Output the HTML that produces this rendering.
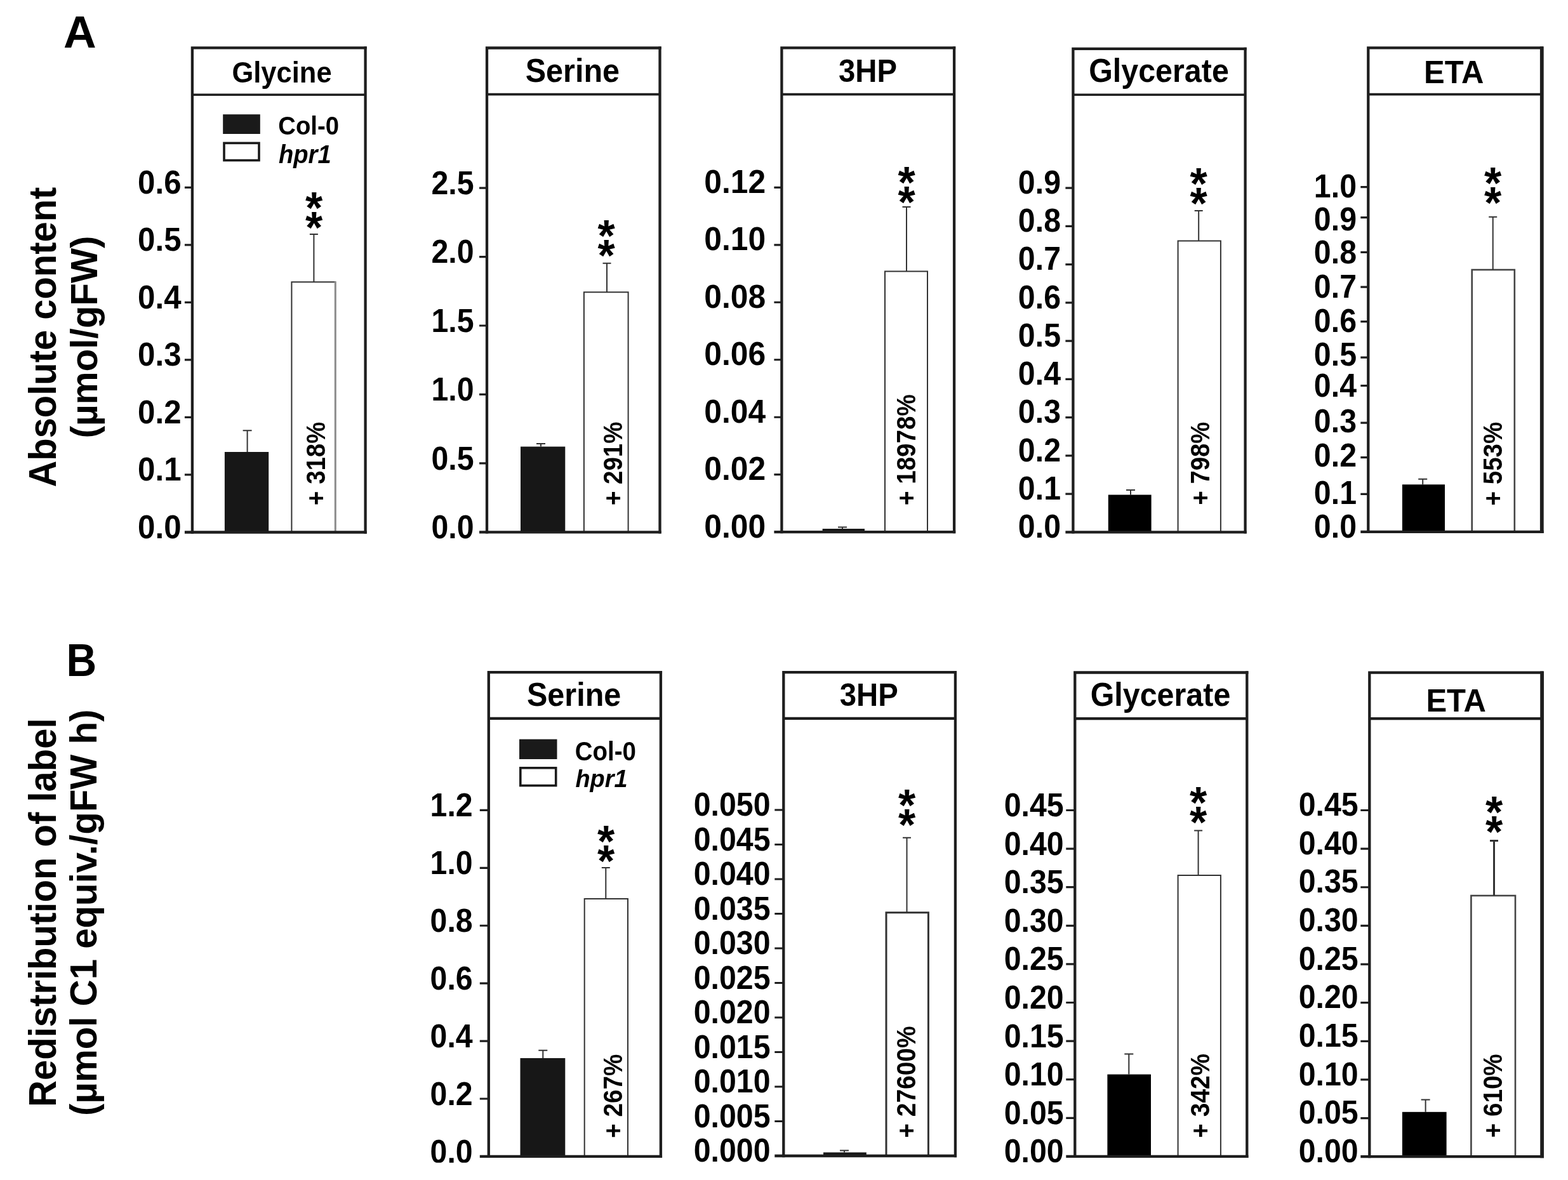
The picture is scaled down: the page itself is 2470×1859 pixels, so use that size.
<!DOCTYPE html>
<html lang="en"><head><meta charset="utf-8"><title>Figure</title>
<style>html,body{margin:0;padding:0;background:#fff}body{width:2470px;height:1859px;overflow:hidden}svg{display:block}</style>
</head><body>
<svg xmlns="http://www.w3.org/2000/svg" width="2470" height="1859" viewBox="0 0 2470 1859" font-family='"Liberation Sans", Arial, Helvetica, sans-serif' font-weight="700" fill="#000">
<rect width="2470" height="1859" fill="#fff"/>
<g>
<rect x="459.4" y="444.3" width="68.6" height="394.2" fill="#fff" stroke="#333" stroke-width="2"/>
<path d="M528 445.3V838.5" stroke="#fff" stroke-width="2.6" fill="none"/>
<path d="M528.3 443.3V838.5" stroke="#8c8c8c" stroke-width="3" fill="none"/>
<path d="M494.4 444.3V368.9M487.9 368.9H500.9" stroke="#333" stroke-width="2" fill="none"/>
<path d="M389.6 712V678.3M382.6 678.3H396.6" stroke="#333" stroke-width="2" fill="none"/>
<rect x="353.9" y="712" width="69.3" height="126.5" fill="#171717"/>
<path d="M302.9 838.5V75.3H575.6" stroke="#1e1e1e" stroke-width="4.3" fill="none" stroke-linejoin="miter" stroke-linecap="square"/>
<path d="M575.6 73.15V840.65" stroke="#1e1e1e" stroke-width="4.3" fill="none"/>
<path d="M302.9 149.2H575.6" stroke="#1e1e1e" stroke-width="3.6" fill="none"/>
<path d="M290.9 838.5H577.75" stroke="#1e1e1e" stroke-width="4.3" fill="none"/>
<path d="M290.9 295.3H302.9M290.9 385.83H302.9M290.9 476.37H302.9M290.9 566.9H302.9M290.9 657.43H302.9M290.9 747.97H302.9" stroke="#1e1e1e" stroke-width="3.2" fill="none"/>
<g font-size="49.2" text-anchor="end">
<text transform="translate(285.5 304.6) scale(1 1.055)">0.6</text>
<text transform="translate(285.5 395.13) scale(1 1.055)">0.5</text>
<text transform="translate(285.5 485.67) scale(1 1.055)">0.4</text>
<text transform="translate(285.5 576.2) scale(1 1.055)">0.3</text>
<text transform="translate(285.5 666.73) scale(1 1.055)">0.2</text>
<text transform="translate(285.5 757.27) scale(1 1.055)">0.1</text>
<text transform="translate(285.5 847.8) scale(1 1.055)">0.0</text>
</g>
<text transform="translate(444 129.5) scale(1 1.055)" font-size="43.5" text-anchor="middle">Glycine</text>
<g font-size="70" text-anchor="middle"><text x="494.6" y="351.82">*</text><text x="494.6" y="383.12">*</text></g>
<text transform="translate(511.9 795.88) rotate(-90)" font-size="42" textLength="131.13" lengthAdjust="spacingAndGlyphs">+ 318%</text>
</g>
<g>
<rect x="919.9" y="460.3" width="69.7" height="378" fill="#fff" stroke="#333" stroke-width="2"/>
<path d="M956 460.3V414.8M949.5 414.8H962.5" stroke="#333" stroke-width="2" fill="none"/>
<path d="M852 703.6V699M845 699H859" stroke="#333" stroke-width="2" fill="none"/>
<rect x="820" y="703.6" width="70.3" height="134.7" fill="#171717"/>
<path d="M767 838.3V75.5H1039.5" stroke="#1e1e1e" stroke-width="4.3" fill="none" stroke-linejoin="miter" stroke-linecap="square"/>
<path d="M1039.5 73.35V840.45" stroke="#1e1e1e" stroke-width="4.3" fill="none"/>
<path d="M767 148.6H1039.5" stroke="#1e1e1e" stroke-width="3.6" fill="none"/>
<path d="M755 838.3H1041.65" stroke="#1e1e1e" stroke-width="4.3" fill="none"/>
<path d="M755 296.1H767M755 404.54H767M755 512.98H767M755 621.42H767M755 729.86H767" stroke="#1e1e1e" stroke-width="3.2" fill="none"/>
<g font-size="48.3" text-anchor="end">
<text transform="translate(746.6 305.8) scale(1 1.055)">2.5</text>
<text transform="translate(746.6 414.24) scale(1 1.055)">2.0</text>
<text transform="translate(746.6 522.68) scale(1 1.055)">1.5</text>
<text transform="translate(746.6 631.12) scale(1 1.055)">1.0</text>
<text transform="translate(746.6 739.56) scale(1 1.055)">0.5</text>
<text transform="translate(746.6 848) scale(1 1.055)">0.0</text>
</g>
<text transform="translate(901.9 128.7) scale(1 1.055)" font-size="48.5" text-anchor="middle">Serine</text>
<g font-size="70" text-anchor="middle"><text x="955" y="395.82">*</text><text x="955" y="427.12">*</text></g>
<text transform="translate(980.3 796.08) rotate(-90)" font-size="42" textLength="131.53" lengthAdjust="spacingAndGlyphs">+ 291%</text>
</g>
<g>
<rect x="1394" y="427.5" width="67" height="410.7" fill="#fff" stroke="#333" stroke-width="2"/>
<path d="M1428 427.5V326M1421.5 326H1434.5" stroke="#333" stroke-width="2" fill="none"/>
<path d="M1327 833V830.5M1320 830.5H1334" stroke="#333" stroke-width="2" fill="none"/>
<rect x="1295.6" y="833" width="66.4" height="5.2" fill="#171717"/>
<path d="M1231.4 838.2V75.4H1503.1" stroke="#1e1e1e" stroke-width="4.3" fill="none" stroke-linejoin="miter" stroke-linecap="square"/>
<path d="M1503.1 73.25V840.35" stroke="#1e1e1e" stroke-width="4.3" fill="none"/>
<path d="M1231.4 148.6H1503.1" stroke="#1e1e1e" stroke-width="3.6" fill="none"/>
<path d="M1219.4 838.2H1505.25" stroke="#1e1e1e" stroke-width="4.3" fill="none"/>
<path d="M1219.4 295.3H1231.4M1219.4 385.78H1231.4M1219.4 476.27H1231.4M1219.4 566.75H1231.4M1219.4 657.23H1231.4M1219.4 747.72H1231.4" stroke="#1e1e1e" stroke-width="3.2" fill="none"/>
<g font-size="49.8" text-anchor="end">
<text transform="translate(1206.2 303.7) scale(1 1.055)">0.12</text>
<text transform="translate(1206.2 394.18) scale(1 1.055)">0.10</text>
<text transform="translate(1206.2 484.67) scale(1 1.055)">0.08</text>
<text transform="translate(1206.2 575.15) scale(1 1.055)">0.06</text>
<text transform="translate(1206.2 665.63) scale(1 1.055)">0.04</text>
<text transform="translate(1206.2 756.12) scale(1 1.055)">0.02</text>
<text transform="translate(1206.2 846.6) scale(1 1.055)">0.00</text>
</g>
<text transform="translate(1367 129.2) scale(1 1.055)" font-size="47.3" text-anchor="middle">3HP</text>
<g font-size="70" text-anchor="middle"><text x="1428" y="311.82">*</text><text x="1428" y="343.12">*</text></g>
<text transform="translate(1442 796.08) rotate(-90)" font-size="42" textLength="174.93" lengthAdjust="spacingAndGlyphs">+ 18978%</text>
</g>
<g>
<rect x="1855.6" y="379.5" width="67.3" height="458.9" fill="#fff" stroke="#333" stroke-width="2"/>
<path d="M1888.2 379.5V332M1881.7 332H1894.7" stroke="#333" stroke-width="2" fill="none"/>
<path d="M1781 779.5V772M1774 772H1788" stroke="#333" stroke-width="2" fill="none"/>
<rect x="1745.8" y="779.5" width="67.8" height="58.9" fill="#000"/>
<path d="M1690.4 838.4V76.9H1961.6" stroke="#1e1e1e" stroke-width="4.3" fill="none" stroke-linejoin="miter" stroke-linecap="square"/>
<path d="M1961.6 74.75V840.55" stroke="#1e1e1e" stroke-width="4.3" fill="none"/>
<path d="M1690.4 149.3H1961.6" stroke="#1e1e1e" stroke-width="3.6" fill="none"/>
<path d="M1678.4 838.4H1963.75" stroke="#1e1e1e" stroke-width="4.3" fill="none"/>
<path d="M1678.4 296.1H1690.4M1678.4 356.36H1690.4M1678.4 416.61H1690.4M1678.4 476.87H1690.4M1678.4 537.12H1690.4M1678.4 597.38H1690.4M1678.4 657.63H1690.4M1678.4 717.89H1690.4M1678.4 778.14H1690.4" stroke="#1e1e1e" stroke-width="3.2" fill="none"/>
<g font-size="48.3" text-anchor="end">
<text transform="translate(1671 304.9) scale(1 1.055)">0.9</text>
<text transform="translate(1671 365.16) scale(1 1.055)">0.8</text>
<text transform="translate(1671 425.41) scale(1 1.055)">0.7</text>
<text transform="translate(1671 485.67) scale(1 1.055)">0.6</text>
<text transform="translate(1671 545.92) scale(1 1.055)">0.5</text>
<text transform="translate(1671 606.18) scale(1 1.055)">0.4</text>
<text transform="translate(1671 666.43) scale(1 1.055)">0.3</text>
<text transform="translate(1671 726.69) scale(1 1.055)">0.2</text>
<text transform="translate(1671 786.94) scale(1 1.055)">0.1</text>
<text transform="translate(1671 847.2) scale(1 1.055)">0.0</text>
</g>
<text transform="translate(1825.5 129.3) scale(1 1.055)" font-size="48.4" text-anchor="middle">Glycerate</text>
<g font-size="70" text-anchor="middle"><text x="1888" y="313.82">*</text><text x="1888" y="345.12">*</text></g>
<text transform="translate(1905 795.58) rotate(-90)" font-size="42" textLength="131.03" lengthAdjust="spacingAndGlyphs">+ 798%</text>
</g>
<g>
<rect x="2318.7" y="425" width="67.1" height="412.9" fill="#fff" stroke="#444" stroke-width="2.6"/>
<path d="M2351.7 425V341.8M2345.2 341.8H2358.2" stroke="#333" stroke-width="2" fill="none"/>
<path d="M2241.2 763.3V754.8M2234.2 754.8H2248.2" stroke="#333" stroke-width="2" fill="none"/>
<rect x="2208.9" y="763.3" width="67.1" height="74.6" fill="#000"/>
<path d="M2155.3 837.9V75.4H2428.8" stroke="#1e1e1e" stroke-width="4.3" fill="none" stroke-linejoin="miter" stroke-linecap="square"/>
<path d="M2428.8 73.25V840.05" stroke="#1e1e1e" stroke-width="5.8" fill="none"/>
<path d="M2155.3 148.6H2428.8" stroke="#1e1e1e" stroke-width="3.6" fill="none"/>
<path d="M2143.3 837.9H2431.7" stroke="#1e1e1e" stroke-width="4.3" fill="none"/>
<path d="M2143.3 294.6H2155.3M2143.3 342.7H2155.3M2143.3 397.3H2155.3M2143.3 452.2H2155.3M2143.3 506.7H2155.3M2143.3 563.1H2155.3M2143.3 607.6H2155.3M2143.3 666.2H2155.3M2143.3 720.6H2155.3M2143.3 778.3H2155.3" stroke="#1e1e1e" stroke-width="3.2" fill="none"/>
<g font-size="48.3" text-anchor="end">
<text transform="translate(2137 311) scale(1 1.055)">1.0</text>
<text transform="translate(2137 362.5) scale(1 1.055)">0.9</text>
<text transform="translate(2137 414.8) scale(1 1.055)">0.8</text>
<text transform="translate(2137 469.4) scale(1 1.055)">0.7</text>
<text transform="translate(2137 523) scale(1 1.055)">0.6</text>
<text transform="translate(2137 576.4) scale(1 1.055)">0.5</text>
<text transform="translate(2137 625.3) scale(1 1.055)">0.4</text>
<text transform="translate(2137 681.3) scale(1 1.055)">0.3</text>
<text transform="translate(2137 735.3) scale(1 1.055)">0.2</text>
<text transform="translate(2137 794) scale(1 1.055)">0.1</text>
<text transform="translate(2137 846.5) scale(1 1.055)">0.0</text>
</g>
<text transform="translate(2290.3 131) scale(1 1.03)" font-size="49" text-anchor="middle">ETA</text>
<g font-size="70" text-anchor="middle"><text x="2351.5" y="312.82">*</text><text x="2351.5" y="344.12">*</text></g>
<text transform="translate(2366.4 796.48) rotate(-90)" font-size="42" textLength="131.83" lengthAdjust="spacingAndGlyphs">+ 553%</text>
</g>
<g>
<rect x="920.7" y="1416" width="68.3" height="405.9" fill="#fff" stroke="#333" stroke-width="2"/>
<path d="M954.3 1416V1367M947.8 1367H960.8" stroke="#333" stroke-width="2" fill="none"/>
<path d="M855.3 1667V1654.7M848.3 1654.7H862.3" stroke="#333" stroke-width="2" fill="none"/>
<rect x="819.5" y="1667" width="70.8" height="154.9" fill="#171717"/>
<path d="M769.8 1821.9V1059.1H1040.9" stroke="#1e1e1e" stroke-width="4.3" fill="none" stroke-linejoin="miter" stroke-linecap="square"/>
<path d="M1040.9 1056.95V1824.05" stroke="#1e1e1e" stroke-width="4.3" fill="none"/>
<path d="M769.8 1131.9H1040.9" stroke="#1e1e1e" stroke-width="4.2" fill="none"/>
<path d="M755.8 1821.9H1043.05" stroke="#1e1e1e" stroke-width="4.3" fill="none"/>
<path d="M755.8 1276.4H769.8M755.8 1367.32H769.8M755.8 1458.23H769.8M755.8 1549.15H769.8M755.8 1640.07H769.8M755.8 1730.98H769.8" stroke="#1e1e1e" stroke-width="3.2" fill="none"/>
<g font-size="48.3" text-anchor="end">
<text transform="translate(744.7 1286.2) scale(1 1.055)">1.2</text>
<text transform="translate(744.7 1377.12) scale(1 1.055)">1.0</text>
<text transform="translate(744.7 1468.03) scale(1 1.055)">0.8</text>
<text transform="translate(744.7 1558.95) scale(1 1.055)">0.6</text>
<text transform="translate(744.7 1649.87) scale(1 1.055)">0.4</text>
<text transform="translate(744.7 1740.78) scale(1 1.055)">0.2</text>
<text transform="translate(744.7 1831.7) scale(1 1.055)">0.0</text>
</g>
<text transform="translate(904.1 1111.8) scale(1 1.055)" font-size="48.5" text-anchor="middle">Serine</text>
<g font-size="70" text-anchor="middle"><text x="954.5" y="1349.83">*</text><text x="954.5" y="1381.12">*</text></g>
<text transform="translate(980.3 1792.68) rotate(-90)" font-size="42" textLength="132.03" lengthAdjust="spacingAndGlyphs">+ 267%</text>
</g>
<g>
<rect x="1396" y="1437.7" width="66.4" height="383.3" fill="#fff" stroke="#333" stroke-width="3"/>
<path d="M1428.5 1437.7V1319.7M1422 1319.7H1435" stroke="#333" stroke-width="2" fill="none"/>
<path d="M1330 1815.5V1812.5M1323 1812.5H1337" stroke="#333" stroke-width="2" fill="none"/>
<rect x="1297" y="1815.5" width="67.8" height="5.5" fill="#171717"/>
<path d="M1234.3 1821V1059.1H1504.9" stroke="#1e1e1e" stroke-width="4.3" fill="none" stroke-linejoin="miter" stroke-linecap="square"/>
<path d="M1504.9 1056.95V1823.15" stroke="#1e1e1e" stroke-width="4.3" fill="none"/>
<path d="M1234.3 1131.9H1504.9" stroke="#1e1e1e" stroke-width="4.2" fill="none"/>
<path d="M1220.3 1821H1507.05" stroke="#1e1e1e" stroke-width="4.3" fill="none"/>
<path d="M1220.3 1276H1234.3M1220.3 1330.5H1234.3M1220.3 1385H1234.3M1220.3 1439.5H1234.3M1220.3 1494H1234.3M1220.3 1548.5H1234.3M1220.3 1603H1234.3M1220.3 1657.5H1234.3M1220.3 1712H1234.3M1220.3 1766.5H1234.3" stroke="#1e1e1e" stroke-width="3.2" fill="none"/>
<g font-size="48.3" text-anchor="end">
<text transform="translate(1213.5 1285) scale(1 1.055)">0.050</text>
<text transform="translate(1213.5 1339.5) scale(1 1.055)">0.045</text>
<text transform="translate(1213.5 1394) scale(1 1.055)">0.040</text>
<text transform="translate(1213.5 1448.5) scale(1 1.055)">0.035</text>
<text transform="translate(1213.5 1503) scale(1 1.055)">0.030</text>
<text transform="translate(1213.5 1557.5) scale(1 1.055)">0.025</text>
<text transform="translate(1213.5 1612) scale(1 1.055)">0.020</text>
<text transform="translate(1213.5 1666.5) scale(1 1.055)">0.015</text>
<text transform="translate(1213.5 1721) scale(1 1.055)">0.010</text>
<text transform="translate(1213.5 1775.5) scale(1 1.055)">0.005</text>
<text transform="translate(1213.5 1830) scale(1 1.055)">0.000</text>
</g>
<text transform="translate(1368.8 1111.8) scale(1 1.055)" font-size="47.3" text-anchor="middle">3HP</text>
<g font-size="70" text-anchor="middle"><text x="1428.5" y="1292.83">*</text><text x="1428.5" y="1324.12">*</text></g>
<text transform="translate(1442 1792.68) rotate(-90)" font-size="42" textLength="176.23" lengthAdjust="spacingAndGlyphs">+ 27600%</text>
</g>
<g>
<rect x="1855.6" y="1379" width="67.3" height="442.9" fill="#fff" stroke="#333" stroke-width="2"/>
<path d="M1887.6 1379V1308.5M1881.1 1308.5H1894.1" stroke="#333" stroke-width="2" fill="none"/>
<path d="M1778.3 1692.6V1660.4M1771.3 1660.4H1785.3" stroke="#333" stroke-width="2" fill="none"/>
<rect x="1744.4" y="1692.6" width="68.6" height="129.3" fill="#000"/>
<path d="M1693.3 1821.9V1059.5H1964.3" stroke="#1e1e1e" stroke-width="4.3" fill="none" stroke-linejoin="miter" stroke-linecap="square"/>
<path d="M1964.3 1057.35V1824.05" stroke="#1e1e1e" stroke-width="4.3" fill="none"/>
<path d="M1693.3 1132.2H1964.3" stroke="#1e1e1e" stroke-width="4.2" fill="none"/>
<path d="M1679.3 1821.9H1966.45" stroke="#1e1e1e" stroke-width="4.3" fill="none"/>
<path d="M1679.3 1276.5H1693.3M1679.3 1337.1H1693.3M1679.3 1397.7H1693.3M1679.3 1458.3H1693.3M1679.3 1518.9H1693.3M1679.3 1579.5H1693.3M1679.3 1640.1H1693.3M1679.3 1700.7H1693.3M1679.3 1761.3H1693.3" stroke="#1e1e1e" stroke-width="3.2" fill="none"/>
<g font-size="48.3" text-anchor="end">
<text transform="translate(1675.7 1285.9) scale(1 1.055)">0.45</text>
<text transform="translate(1675.7 1346.5) scale(1 1.055)">0.40</text>
<text transform="translate(1675.7 1407.1) scale(1 1.055)">0.35</text>
<text transform="translate(1675.7 1467.7) scale(1 1.055)">0.30</text>
<text transform="translate(1675.7 1528.3) scale(1 1.055)">0.25</text>
<text transform="translate(1675.7 1588.9) scale(1 1.055)">0.20</text>
<text transform="translate(1675.7 1649.5) scale(1 1.055)">0.15</text>
<text transform="translate(1675.7 1710.1) scale(1 1.055)">0.10</text>
<text transform="translate(1675.7 1770.7) scale(1 1.055)">0.05</text>
<text transform="translate(1675.7 1831.3) scale(1 1.055)">0.00</text>
</g>
<text transform="translate(1828 1112.2) scale(1 1.055)" font-size="48.4" text-anchor="middle">Glycerate</text>
<g font-size="70" text-anchor="middle"><text x="1887.5" y="1288.83">*</text><text x="1887.5" y="1320.12">*</text></g>
<text transform="translate(1905 1792.68) rotate(-90)" font-size="42" textLength="132.83" lengthAdjust="spacingAndGlyphs">+ 342%</text>
</g>
<g>
<rect x="2317.4" y="1411" width="69.6" height="411.2" fill="#fff" stroke="#444" stroke-width="2.6"/>
<path d="M2353.5 1411V1324.4M2347 1324.4H2360" stroke="#333" stroke-width="3" fill="none"/>
<path d="M2245.6 1751.8V1732.5M2238.6 1732.5H2252.6" stroke="#333" stroke-width="2" fill="none"/>
<rect x="2208.9" y="1751.8" width="69.7" height="70.4" fill="#000"/>
<path d="M2157.3 1822.2V1059.7H2429.1" stroke="#1e1e1e" stroke-width="4.3" fill="none" stroke-linejoin="miter" stroke-linecap="square"/>
<path d="M2429.1 1057.55V1824.35" stroke="#1e1e1e" stroke-width="5.8" fill="none"/>
<path d="M2157.3 1132.2H2429.1" stroke="#1e1e1e" stroke-width="4.2" fill="none"/>
<path d="M2143.3 1822.2H2432" stroke="#1e1e1e" stroke-width="4.3" fill="none"/>
<path d="M2143.3 1276.5H2157.3M2143.3 1337.13H2157.3M2143.3 1397.77H2157.3M2143.3 1458.4H2157.3M2143.3 1519.03H2157.3M2143.3 1579.67H2157.3M2143.3 1640.3H2157.3M2143.3 1700.93H2157.3M2143.3 1761.57H2157.3" stroke="#1e1e1e" stroke-width="3.2" fill="none"/>
<g font-size="48.3" text-anchor="end">
<text transform="translate(2139.7 1285.1) scale(1 1.055)">0.45</text>
<text transform="translate(2139.7 1345.73) scale(1 1.055)">0.40</text>
<text transform="translate(2139.7 1406.37) scale(1 1.055)">0.35</text>
<text transform="translate(2139.7 1467) scale(1 1.055)">0.30</text>
<text transform="translate(2139.7 1527.63) scale(1 1.055)">0.25</text>
<text transform="translate(2139.7 1588.27) scale(1 1.055)">0.20</text>
<text transform="translate(2139.7 1648.9) scale(1 1.055)">0.15</text>
<text transform="translate(2139.7 1709.53) scale(1 1.055)">0.10</text>
<text transform="translate(2139.7 1770.17) scale(1 1.055)">0.05</text>
<text transform="translate(2139.7 1830.8) scale(1 1.055)">0.00</text>
</g>
<text transform="translate(2293.6 1121) scale(1 1.03)" font-size="49" text-anchor="middle">ETA</text>
<g font-size="70" text-anchor="middle"><text x="2353.5" y="1303.53">*</text><text x="2353.5" y="1334.83">*</text></g>
<text transform="translate(2366.4 1792.28) rotate(-90)" font-size="42" textLength="131.93" lengthAdjust="spacingAndGlyphs">+ 610%</text>
</g>
<rect x="351.2" y="180.2" width="58.6" height="30.8" fill="#1a1a1a"/>
<rect x="353" y="225.4" width="55" height="27.2" fill="#fff" stroke="#1a1a1a" stroke-width="3.6"/>
<text transform="translate(438.3 212.4) scale(1 1.074)" font-size="38.3">Col-0</text>
<text transform="translate(438.9 257) scale(1 1.04)" font-size="38.2" font-style="italic">hpr1</text>
<rect x="818" y="1164.6" width="59.5" height="31.4" fill="#1a1a1a"/>
<rect x="819.8" y="1209.8" width="55.9" height="27.8" fill="#fff" stroke="#1a1a1a" stroke-width="3.6"/>
<text transform="translate(905.8 1198) scale(1 1.08)" font-size="38.5">Col-0</text>
<text transform="translate(906.4 1240.4) scale(1 1.04)" font-size="37.9" font-style="italic">hpr1</text>
<text transform="translate(100.1 74.6) scale(1 0.985)" font-size="71.5">A</text>
<text transform="translate(104.5 1064.5) scale(1 1.09)" font-size="66">B</text>
<text transform="translate(88.1 767.55) rotate(-90)" font-size="62" textLength="472.89" lengthAdjust="spacingAndGlyphs">Absolute content</text>
<text transform="translate(153.2 690.38) rotate(-90)" font-size="59.5" textLength="318.93" lengthAdjust="spacingAndGlyphs">(µmol/gFW)</text>
<text transform="translate(88.2 1744.03) rotate(-90)" font-size="62" textLength="612.77" lengthAdjust="spacingAndGlyphs">Redistribution of label</text>
<text transform="translate(152.4 1757.97) rotate(-90)" font-size="59.5" textLength="640.33" lengthAdjust="spacingAndGlyphs">(µmol C1 equiv./gFW h)</text>
<rect x="0" y="1831.7" width="2470" height="27.299999999999955" fill="#fff"/>
<rect x="0" y="0" width="44" height="1859" fill="#fff"/>
</svg>
</body></html>
